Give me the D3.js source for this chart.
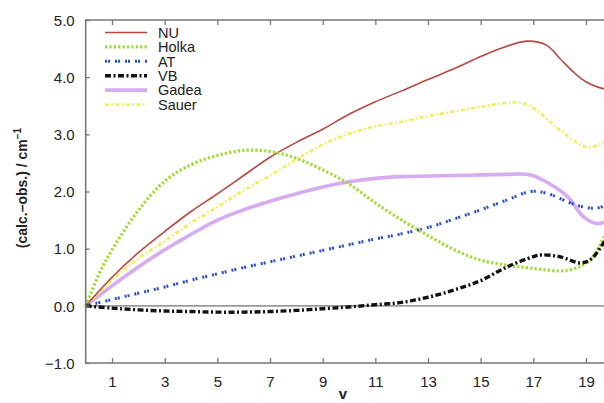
<!DOCTYPE html>
<html>
<head>
<meta charset="utf-8">
<script src="https://cdn.jsdelivr.net/npm/d3@7"></script>
<style>
  html, body { margin: 0; padding: 0; background: #fff; }
  svg { display: block; font-family: "Liberation Sans", Arial, Helvetica, sans-serif; }
</style>
</head>
<body>
<svg id="chart" width="604" height="403"></svg>
<script>
// Deviations (calc. - obs.) in cm^-1 against vibrational quantum number v
const xNU    = [0, 1, 2, 3, 4, 5, 6, 7, 8, 9, 10, 11, 12, 13, 14, 15, 15.75, 16.75, 17.5, 18, 18.5, 18.8, 19.2, 19.65, 20];
const yNU    = [0, 0.5, 0.93, 1.3, 1.65, 1.96, 2.28, 2.6, 2.86, 3.09, 3.35, 3.57, 3.76, 3.96, 4.15, 4.36, 4.5, 4.63, 4.56, 4.33, 4.1, 3.98, 3.87, 3.8, 3.78];

const xHolka = [0, 0.5, 1, 2, 3, 4, 5, 6, 7, 8, 9, 10, 11, 12, 13, 14, 15, 16, 16.9, 18.3, 19.15, 19.7, 20];
const yHolka = [0, 0.55, 0.98, 1.67, 2.18, 2.47, 2.63, 2.72, 2.7, 2.58, 2.38, 2.13, 1.8, 1.5, 1.23, 0.98, 0.8, 0.71, 0.66, 0.62, 0.8, 1.21, 1.45];

const xAT    = [0, 1, 2, 3, 4, 5, 6, 7, 8, 9, 10, 11, 12, 13, 14, 15, 16, 16.9, 17.5, 18.3, 18.8, 19.4, 20];
const yAT    = [0, 0.11, 0.22, 0.33, 0.45, 0.56, 0.67, 0.77, 0.87, 0.97, 1.07, 1.17, 1.26, 1.37, 1.52, 1.68, 1.85, 2.0, 1.97, 1.82, 1.74, 1.71, 1.8];

const xVB    = [0, 1, 2, 3, 4, 5, 6, 7, 8, 9, 10, 11, 12, 13, 14, 15, 16, 17, 17.3, 18, 18.8, 19.2, 19.7, 20];
const yVB    = [0, -0.04, -0.07, -0.09, -0.1, -0.11, -0.11, -0.1, -0.08, -0.05, -0.02, 0.02, 0.06, 0.15, 0.28, 0.44, 0.68, 0.86, 0.89, 0.86, 0.75, 0.82, 1.12, 1.3];

const xGadea = [0, 1, 2, 3, 4, 5, 6, 7, 8, 9, 10, 11, 12, 13, 14, 15, 16, 16.9, 17.6, 18.3, 18.9, 19.4, 20];
const yGadea = [0, 0.35, 0.68, 0.98, 1.25, 1.5, 1.68, 1.83, 1.96, 2.08, 2.17, 2.23, 2.26, 2.27, 2.28, 2.29, 2.3, 2.29, 2.14, 1.91, 1.56, 1.44, 1.52];

const xSauer = [0, 1, 2, 3, 4, 5, 6, 7, 8, 9, 10, 11, 12, 13, 14, 15, 16, 16.5, 17, 18, 19, 19.5, 20];
const ySauer = [0, 0.45, 0.83, 1.13, 1.45, 1.73, 2.02, 2.28, 2.56, 2.82, 3.01, 3.14, 3.22, 3.32, 3.4, 3.48, 3.55, 3.55, 3.46, 3.08, 2.78, 2.82, 2.95];

const seriesNames = ["NU", "Holka", "AT", "VB", "Gadea", "Sauer"];
const xTicks = [1, 3, 5, 7, 9, 11, 13, 15, 17, 19];
const yTicks = [-1, 0, 1, 2, 3, 4, 5];

const seriesX = { NU: xNU, Holka: xHolka, AT: xAT, VB: xVB, Gadea: xGadea, Sauer: xSauer };
const seriesY = { NU: yNU, Holka: yHolka, AT: yAT, VB: yVB, Gadea: yGadea, Sauer: ySauer };

// Line styles per method
const styles = {
  NU:    { color: "#b8473f", width: 1.6, dash: null,            opacity: 1 },
  Holka: { color: "#9bdc2e", width: 3.2, dash: "2.2,2.2",       opacity: 1 },
  AT:    { color: "#2a4fc4", width: 3.0, dash: "2,1,2,5",       opacity: 1 },
  VB:    { color: "#111111", width: 3.4, dash: "6,2.5,2,2.5",   opacity: 1 },
  Gadea: { color: "#d4a6ef", width: 3.6, dash: null,            opacity: 0.95 },
  Sauer: { color: "#f0ee50", width: 2.6, dash: "4,2.5,1.5,2.5", opacity: 1 }
};

const svg = d3.select("#chart");
const margin = { left: 85.7, top: 20, bottom: 363 };

const x = d3.scaleLinear().domain([0, 20]).range([margin.left, margin.left + 20 * 26.33]);
const y = d3.scaleLinear().domain([-1, 5]).range([margin.bottom, margin.top]);

const plotRight = 604;
const axisColor = "#777";

// zero reference line
svg.append("line")
  .attr("x1", x(0)).attr("x2", plotRight)
  .attr("y1", y(0)).attr("y2", y(0))
  .attr("stroke", "#9a9a9a").attr("stroke-width", 1.6);

// curves
const line = d3.line()
  .x(d => x(d[0]))
  .y(d => y(d[1]))
  .curve(d3.curveCatmullRom.alpha(0.5));

const drawOrder = ["Gadea", "Sauer", "NU", "AT", "Holka", "VB"];
drawOrder.forEach(name => {
  const s = styles[name];
  const pts = seriesX[name].map((v, i) => [v, seriesY[name][i]]);
  svg.append("path")
    .datum(pts)
    .attr("d", line)
    .attr("fill", "none")
    .attr("stroke", s.color)
    .attr("stroke-width", s.width)
    .attr("stroke-opacity", s.opacity)
    .attr("stroke-dasharray", s.dash);
});

// frame: left, top, bottom
const frame = svg.append("g").attr("stroke", axisColor).attr("stroke-width", 1.6).attr("fill", "none");
frame.append("line").attr("x1", x(0)).attr("x2", x(0)).attr("y1", y(5)).attr("y2", y(-1));
frame.append("line").attr("x1", x(0) - 0.8).attr("x2", plotRight).attr("y1", y(5)).attr("y2", y(5));
frame.append("line").attr("x1", x(0) - 0.8).attr("x2", plotRight).attr("y1", y(-1)).attr("y2", y(-1));

// axes with inward ticks
const xAxisBottom = d3.axisBottom(x).tickValues(xTicks).tickSize(-5).tickPadding(13).tickFormat(d3.format("d"));
const gxb = svg.append("g").attr("transform", `translate(0,${y(-1)})`).call(xAxisBottom);

const xAxisTop = d3.axisTop(x).tickValues(xTicks).tickSize(-5).tickFormat("");
const gxt = svg.append("g").attr("transform", `translate(0,${y(5)})`).call(xAxisTop);

const yAxis = d3.axisLeft(y).tickValues(yTicks).tickSize(-4).tickPadding(11)
  .tickFormat(d => d < 0 ? "\u2212" + Math.abs(d).toFixed(1) : d.toFixed(1));
const gy = svg.append("g").attr("transform", `translate(${x(0)},0)`).call(yAxis);

[gxb, gxt, gy].forEach(g => {
  g.select(".domain").remove();
  g.selectAll(".tick line").attr("stroke", axisColor).attr("stroke-width", 1.3);
  g.selectAll(".tick text")
    .attr("fill", "#222")
    .style("font-size", "15px")
    .style("font-family", "'Liberation Sans', Arial, sans-serif");
});
gy.selectAll(".tick text").attr("dy", "0.35em");

// axis titles
svg.append("text")
  .attr("x", 343).attr("y", 399)
  .attr("text-anchor", "middle")
  .attr("fill", "#222")
  .style("font-size", "15px").style("font-weight", "bold")
  .text("v");

const ytitle = svg.append("text")
  .attr("transform", "translate(27,188) rotate(-90)")
  .attr("text-anchor", "middle")
  .attr("fill", "#222")
  .style("font-size", "14px").style("font-weight", "bold");
ytitle.append("tspan").text("(calc.\u2013obs.) / cm");
ytitle.append("tspan").attr("dy", "-6").style("font-size", "10px").text("\u22121");

// legend
const legend = svg.append("g");
seriesNames.forEach((name, i) => {
  const s = styles[name];
  const yy = 32.5 + i * 14.4;
  legend.append("line")
    .attr("x1", 105).attr("x2", 147)
    .attr("y1", yy).attr("y2", yy)
    .attr("stroke", s.color)
    .attr("stroke-width", s.width)
    .attr("stroke-opacity", s.opacity)
    .attr("stroke-dasharray", s.dash);
  legend.append("text")
    .attr("x", 158).attr("y", yy)
    .attr("dy", "0.36em")
    .attr("fill", "#222")
    .style("font-size", "14.5px")
    .text(name);
});
</script>
</body>
</html>
